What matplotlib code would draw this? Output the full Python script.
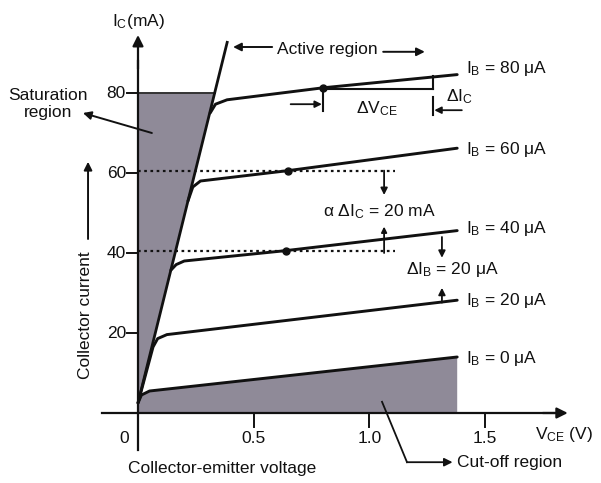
import matplotlib
matplotlib.use("Agg")
import matplotlib.pyplot as plt

# ---------------- data ----------------
IB_LABELS = ["80", "60", "40", "20", "0"]
IB80_V = [0.312, 0.335, 0.385, 0.80, 1.38]
IB80_I = [75.0, 77.2, 78.3, 81.3, 84.6]
IB60_V = [0.216, 0.237, 0.27, 0.65, 1.38]
IB60_I = [53.0, 56.5, 58.0, 60.6, 66.2]
IB40_V = [0.142, 0.165, 0.20, 0.64, 1.38]
IB40_I = [35.7, 37.1, 38.0, 40.6, 45.6]
IB20_V = [0.0, 0.065, 0.085, 0.125, 1.38]
IB20_I = [2.5, 16.5, 18.6, 19.6, 28.2]
IB0_V = [0.0, 0.015, 0.05, 1.38]
IB0_I = [2.5, 4.5, 5.5, 14.0]
BOUND_V = [0.0, 0.387]
BOUND_I = [2.5, 93.0]
DOT_V = [0.80, 0.65, 0.64]
DOT_I = [81.3, 60.6, 40.6]
X_TICKS = [0.5, 1.0, 1.5]
X_TICKLABELS = ["0.5", "1.0", "1.5"]
Y_TICKS = [20, 40, 60, 80]
Y_TICKLABELS = ["20", "40", "60", "80"]
SAT_TOP = 80.0

plt.rcParams["font.family"] = ["Liberation Sans", "DejaVu Sans"]
plt.rcParams["mathtext.fontset"] = "custom"
plt.rcParams["mathtext.rm"] = "Liberation Sans"
plt.rcParams["mathtext.it"] = "Liberation Sans:italic"
plt.rcParams["mathtext.bf"] = "Liberation Sans:bold"

fig = plt.figure(figsize=(6.01, 4.83), dpi=100)
ax = fig.add_axes([0, 0, 1, 1])
ax.set_xlim(-0.5966, 2.0017)
ax.set_ylim(-17.5, 103.25)
ax.axis("off")

K = "#111111"
SHADE = "#8f8a98"
FS = 12.5

def bound_v(i):
    return BOUND_V[0] + (BOUND_V[1] - BOUND_V[0]) * (i - BOUND_I[0]) / (BOUND_I[1] - BOUND_I[0])

# saturation region shading
sat_x = [0, 0, bound_v(SAT_TOP), BOUND_V[0]]
sat_y = [0, SAT_TOP, SAT_TOP, BOUND_I[0]]
ax.fill(sat_x, sat_y, color=SHADE, lw=0, zorder=1)
ax.plot([0, bound_v(SAT_TOP)], [SAT_TOP, SAT_TOP], color="#333333", lw=1.4, zorder=2)

# cut-off region shading
cut_x = [0] + IB0_V + [IB0_V[-1]]
cut_y = [0] + IB0_I + [0]
ax.fill(cut_x, cut_y, color=SHADE, lw=0, zorder=1)

# dotted guide lines
ax.plot([0, 1.11], [60.6, 60.6], color=K, lw=1.6, ls=(0, (1.2, 1.6)), zorder=2)
ax.plot([0, 1.11], [40.4, 40.4], color=K, lw=1.6, ls=(0, (1.2, 1.6)), zorder=2)

# boundary line of active region
ax.plot(BOUND_V, BOUND_I, color=K, lw=2.0, zorder=3, solid_capstyle="butt")

# characteristic curves
for vv, ii in [(IB80_V, IB80_I), (IB60_V, IB60_I), (IB40_V, IB40_I),
               (IB20_V, IB20_I), (IB0_V, IB0_I)]:
    ax.plot(vv, ii, color=K, lw=2.1, zorder=4, solid_joinstyle="round",
            solid_capstyle="round")
ax.plot(DOT_V, DOT_I, "o", color=K, ms=5, zorder=5)

# labels of the curves
ends = [IB80_I[-1], IB60_I[-1], IB40_I[-1], IB20_I[-1], IB0_I[-1]]
offs = [1.6, -0.4, 0.6, 0.0, -0.3]
for lab, e, o in zip(IB_LABELS, ends, offs):
    ax.text(1.42, e + o, r"$\mathrm{I_B}$ = " + lab + " μA", fontsize=FS,
            ha="left", va="center", color=K)

# axes
ax.plot([-0.156, 1.80], [0, 0], color=K, lw=1.6, zorder=3)
ax.annotate("", xy=(1.858, 0), xytext=(1.75, 0),
            arrowprops=dict(arrowstyle="-|>", color=K, lw=1.6,
                            mutation_scale=16, shrinkA=0, shrinkB=0))
ax.plot([0, 0], [-9.3, 88], color=K, lw=1.6, zorder=3)
ax.annotate("", xy=(0, 94.5), xytext=(0, 86),
            arrowprops=dict(arrowstyle="-|>", color=K, lw=1.6,
                            mutation_scale=16, shrinkA=0, shrinkB=0))
for t, lab in zip(X_TICKS, X_TICKLABELS):
    ax.plot([t, t], [0, -3.5], color=K, lw=1.4)
    ax.text(t, -6.3, lab, fontsize=FS, ha="center", va="center", color=K)
ax.text(-0.058, -6.3, "0", fontsize=FS, ha="center", va="center", color=K)
for t, lab in zip(Y_TICKS, Y_TICKLABELS):
    ax.plot([-0.047, 0], [t, t], color=K, lw=1.4)
    ax.text(-0.052, t, lab, fontsize=FS, ha="right", va="center", color=K)

ax.text(0.0, 97.8, r"$\mathrm{I_C}$(mA)", fontsize=FS, ha="center", va="center", color=K)
ax.text(1.842, -5.5, r"$\mathrm{V_{CE}}$ (V)", fontsize=FS, ha="center", va="center", color=K)
ax.text(0.363, -13.8, "Collector-emitter voltage", fontsize=FS, ha="center",
        va="center", color=K)
ax.text(-0.229, 24.5, "Collector current", fontsize=FS, ha="center", va="center",
        rotation=90, color=K)
ax.annotate("", xy=(-0.216, 62.8), xytext=(-0.216, 43.5),
            arrowprops=dict(arrowstyle="-|>", color=K, lw=1.4,
                            mutation_scale=12, shrinkA=0, shrinkB=0))

# saturation region annotation
ax.text(-0.39, 77.3, "Saturation\nregion", fontsize=FS, ha="center", va="center",
        linespacing=1.2, color=K)
ax.annotate("", xy=(-0.238, 75.0), xytext=(0.06, 70.0),
            arrowprops=dict(arrowstyle="-|>", color=K, lw=1.4,
                            mutation_scale=12, shrinkA=0, shrinkB=0))

# active region annotation
ax.text(0.818, 90.8, "Active region", fontsize=FS, ha="center", va="center", color=K)
ax.annotate("", xy=(0.411, 91.5), xytext=(0.58, 91.5),
            arrowprops=dict(arrowstyle="-|>", color=K, lw=1.4,
                            mutation_scale=12, shrinkA=0, shrinkB=0))
ax.annotate("", xy=(1.24, 90.3), xytext=(1.06, 90.3),
            arrowprops=dict(arrowstyle="-|>", color=K, lw=1.4,
                            mutation_scale=12, shrinkA=0, shrinkB=0))

# cut-off region annotation
ax.plot([1.055, 1.163], [2.8, -12.3], color=K, lw=1.3)
ax.annotate("", xy=(1.36, -12.3), xytext=(1.163, -12.3),
            arrowprops=dict(arrowstyle="-|>", color=K, lw=1.3,
                            mutation_scale=12, shrinkA=0, shrinkB=0))
ax.text(1.378, -12.3, "Cut-off region", fontsize=FS, ha="left", va="center", color=K)

# delta V_CE / delta I_C construction
ax.plot([0.80, 1.276], [81.0, 81.0], color=K, lw=1.5)
ax.plot([1.276, 1.276], [81.0, 84.3], color=K, lw=1.5)
ax.plot([0.80, 0.80], [81.0, 75.6], color=K, lw=1.5)
ax.plot([1.276, 1.276], [79.0, 74.5], color=K, lw=1.5)
ax.annotate("", xy=(0.795, 77.2), xytext=(0.66, 77.2),
            arrowprops=dict(arrowstyle="-|>", color=K, lw=1.3,
                            mutation_scale=10, shrinkA=0, shrinkB=0))
ax.annotate("", xy=(1.281, 75.7), xytext=(1.40, 75.7),
            arrowprops=dict(arrowstyle="-|>", color=K, lw=1.3,
                            mutation_scale=10, shrinkA=0, shrinkB=0))
ax.text(1.034, 76.0, r"Δ$\mathrm{V_{CE}}$", fontsize=FS, ha="center", va="center", color=K)
ax.text(1.39, 79.2, r"Δ$\mathrm{I_C}$", fontsize=FS, ha="center", va="center", color=K)

# alpha delta I_C construction
ax.annotate("", xy=(1.064, 54.5), xytext=(1.064, 60.6),
            arrowprops=dict(arrowstyle="-|>", color=K, lw=1.3,
                            mutation_scale=10, shrinkA=0, shrinkB=0))
ax.text(1.045, 50.3, r"α Δ$\mathrm{I_C}$ = 20 mA", fontsize=FS, ha="center",
        va="center", color=K)
ax.annotate("", xy=(1.064, 46.6), xytext=(1.064, 40.0),
            arrowprops=dict(arrowstyle="-|>", color=K, lw=1.3,
                            mutation_scale=8, shrinkA=0, shrinkB=0))

# delta I_B construction
ax.annotate("", xy=(1.314, 38.8), xytext=(1.314, 44.0),
            arrowprops=dict(arrowstyle="-|>", color=K, lw=1.3,
                            mutation_scale=10, shrinkA=0, shrinkB=0))
ax.annotate("", xy=(1.314, 31.3), xytext=(1.314, 27.6),
            arrowprops=dict(arrowstyle="-|>", color=K, lw=1.3,
                            mutation_scale=10, shrinkA=0, shrinkB=0))
ax.text(1.36, 35.8, r"Δ$\mathrm{I_B}$ = 20 μA", fontsize=FS, ha="center",
        va="center", color=K)

fig.savefig("out.png", dpi=100)
